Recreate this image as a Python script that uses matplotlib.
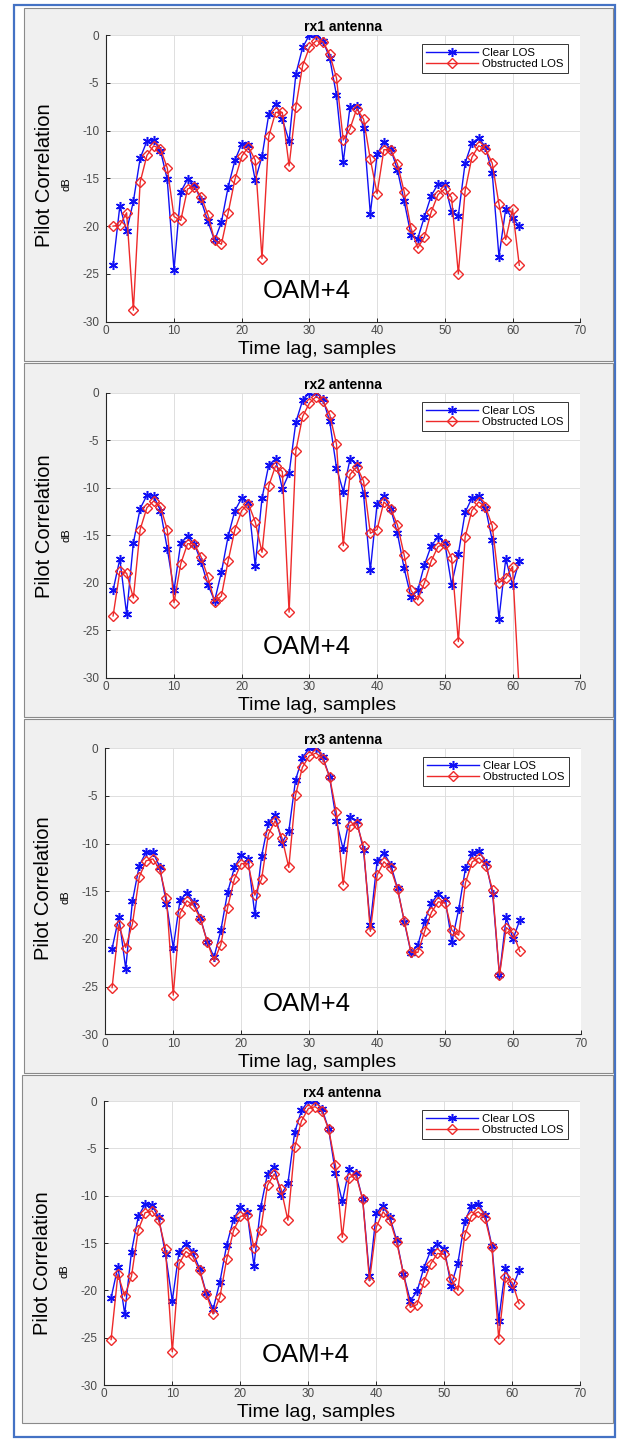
import numpy as np
import matplotlib
matplotlib.use("Agg")
import matplotlib.pyplot as plt
from matplotlib.patches import Rectangle

plt.rcParams['font.family'] = ['Liberation Sans', 'DejaVu Sans']
plt.rcParams['axes.unicode_minus'] = False

# Data (dB), lags 1..61
lags = list(range(1, 62))
antennas = ['rx1 antenna', 'rx2 antenna', 'rx3 antenna', 'rx4 antenna']
series_names = ['Clear LOS', 'Obstructed LOS']
annotation = 'OAM+4'

rx1_clear = [-24.1, -17.9, -20.5, -17.4, -12.9, -11.1, -11.0, -12.1, -15.1, -24.6,
             -16.4, -15.1, -15.7, -17.3, -19.5, -21.5, -19.6, -15.9, -13.1, -11.4,
             -11.5, -15.2, -12.7, -8.3, -7.2, -8.8, -11.1, -4.1, -1.3, 0.0,
             0.0, -0.6, -2.4, -6.3, -13.3, -7.5, -7.4, -9.7, -18.7, -12.5,
             -11.2, -11.9, -14.1, -17.4, -20.9, -21.3, -19.0, -16.8, -15.6, -15.6,
             -18.5, -18.9, -13.4, -11.3, -10.8, -11.7, -14.4, -23.2, -18.2, -19.2, -20.0]
rx1_obstr = [-20.0, -19.9, -18.6, -28.8, -15.4, -12.6, -11.6, -11.9, -13.9, -19.0,
             -19.4, -16.1, -15.9, -16.9, -18.8, -21.5, -21.9, -18.6, -15.1, -12.7,
             -11.7, -13.1, -23.4, -10.6, -8.1, -8.1, -13.7, -7.5, -3.2, -1.3,
             -0.6, -0.7, -2.0, -4.5, -11.0, -9.8, -7.7, -8.8, -13.0, -16.6,
             -12.0, -12.0, -13.5, -16.4, -20.2, -22.3, -21.1, -18.5, -16.7, -16.1,
             -17.0, -25.0, -16.3, -12.8, -11.6, -11.9, -13.4, -17.7, -21.4, -18.2, -24.1]

rx2_clear = [-20.8, -17.5, -23.3, -15.8, -12.2, -10.8, -10.9, -12.4, -16.4, -20.8,
             -15.8, -15.1, -15.9, -17.8, -20.2, -21.9, -18.9, -15.1, -12.4, -11.1,
             -11.6, -18.2, -11.1, -7.6, -7.0, -10.1, -8.5, -3.1, -0.8, 0.0,
             0.0, -0.7, -3.0, -7.9, -10.4, -7.0, -7.5, -10.7, -18.7, -11.7,
             -10.9, -12.2, -14.8, -18.5, -21.5, -20.8, -18.1, -16.1, -15.2, -15.8,
             -20.2, -17.0, -12.6, -11.1, -10.9, -12.1, -15.5, -23.8, -17.5, -20.2, -17.7]
rx2_obstr = [-23.5, -18.8, -19.0, -21.6, -14.4, -12.1, -11.4, -12.0, -14.4, -22.1,
             -18.0, -15.9, -15.9, -17.3, -19.4, -22.0, -21.4, -17.7, -14.4, -12.4,
             -11.7, -13.6, -16.8, -9.8, -7.7, -8.3, -23.1, -6.1, -2.5, -1.1,
             -0.4, -0.9, -2.3, -5.4, -16.1, -8.6, -7.8, -9.3, -14.8, -14.4,
             -11.5, -12.2, -13.9, -17.1, -20.8, -21.8, -20.0, -17.7, -16.2, -15.9,
             -17.4, -26.2, -15.2, -12.4, -11.5, -12.0, -14.0, -20.0, -19.5, -18.3, -31.5]

rx3_clear = [-21.0, -17.7, -23.1, -16.0, -12.3, -10.9, -10.9, -12.4, -16.3, -20.9,
             -15.9, -15.2, -16.1, -17.8, -20.3, -21.9, -19.1, -15.1, -12.5, -11.2,
             -11.6, -17.4, -11.3, -7.8, -7.0, -9.9, -8.7, -3.3, -1.0, 0.0,
             0.0, -0.9, -3.0, -7.6, -10.6, -7.2, -7.6, -10.7, -18.5, -11.8,
             -11.0, -12.2, -14.7, -18.2, -21.5, -20.6, -18.1, -16.2, -15.3, -15.8,
             -20.3, -16.9, -12.6, -11.0, -10.8, -12.0, -15.3, -23.8, -17.7, -20.0, -18.0]
rx3_obstr = [-25.1, -18.5, -20.9, -18.4, -13.5, -11.8, -11.6, -12.7, -15.7, -25.9,
             -17.3, -16.0, -16.5, -17.9, -20.3, -22.3, -20.6, -16.7, -13.7, -12.1,
             -12.1, -15.4, -13.7, -9.0, -7.6, -9.4, -12.5, -4.9, -2.0, -0.8,
             -0.5, -1.1, -3.0, -6.7, -14.3, -8.1, -7.9, -10.3, -19.2, -13.3,
             -11.9, -12.6, -14.8, -18.1, -21.4, -21.4, -19.2, -17.2, -16.1, -16.2,
             -19.1, -19.6, -14.1, -11.9, -11.5, -12.3, -14.9, -23.8, -18.8, -19.4, -21.3]

rx4_clear = [-20.8, -17.5, -22.5, -15.9, -12.2, -10.9, -11.0, -12.3, -16.2, -21.1,
             -15.9, -15.1, -15.9, -17.7, -20.3, -22.0, -19.1, -15.2, -12.5, -11.2,
             -11.7, -17.4, -11.2, -7.7, -7.0, -9.9, -8.7, -3.3, -1.0, 0.0,
             0.0, -0.8, -3.0, -7.6, -10.6, -7.2, -7.6, -10.4, -18.5, -11.8,
             -11.1, -12.3, -14.7, -18.3, -21.1, -20.1, -17.6, -15.8, -15.1, -15.6,
             -19.5, -17.1, -12.7, -11.1, -10.9, -12.0, -15.3, -23.2, -17.6, -19.8, -17.9]
rx4_obstr = [-25.2, -18.3, -20.6, -18.5, -13.6, -11.8, -11.6, -12.6, -15.6, -26.5,
             -17.2, -15.9, -16.4, -17.9, -20.4, -22.5, -20.7, -16.7, -13.7, -12.2,
             -12.0, -15.5, -13.6, -8.9, -7.7, -9.3, -12.6, -4.9, -2.1, -0.8,
             -0.6, -1.1, -3.0, -6.8, -14.4, -8.1, -7.8, -10.4, -19.0, -13.3,
             -11.7, -12.6, -14.9, -18.3, -21.8, -21.5, -19.1, -17.2, -16.1, -16.2,
             -18.8, -20.0, -14.2, -12.1, -11.7, -12.4, -15.4, -25.1, -18.6, -19.2, -21.4]

clear_data = [rx1_clear, rx2_clear, rx3_clear, rx4_clear]
obstr_data = [rx1_obstr, rx2_obstr, rx3_obstr, rx4_obstr]

x_ticks = [0, 10, 20, 30, 40, 50, 60, 70]
y_ticks = [-30, -25, -20, -15, -10, -5, 0]

# Layout in pixels (top-left origin) of the stacked screenshots
W, H = 618, 1439
panel_boxes = [(24, 8, 613, 361), (24, 363, 613, 717), (24, 719, 613, 1073), (22, 1075, 613, 1423)]
axes_boxes = [(106.3, 35, 580.2, 321.7), (106.3, 392.7, 580.2, 677.7),
              (105.3, 748.3, 581.0, 1034.3), (104.3, 1101, 580.3, 1385)]
ylabel_y = [0.51, 0.53, 0.51, 0.43]


def fig_rect(x0, y0, x1, y1):
    return [x0 / W, 1 - y1 / H, (x1 - x0) / W, (y1 - y0) / H]


fig = plt.figure(figsize=(W / 100, H / 100), dpi=100)
fig.patch.set_facecolor('white')

# outer blue frame
r = fig_rect(14, 5, 615, 1437)
fig.patches.append(Rectangle((r[0], r[1]), r[2], r[3], transform=fig.transFigure,
                             facecolor='none', edgecolor='#4472c4', linewidth=1.6, zorder=-2))

tick_col = '#4a4a4a'
for i in range(4):
    r = fig_rect(*panel_boxes[i])
    fig.patches.append(Rectangle((r[0], r[1]), r[2], r[3], transform=fig.transFigure,
                                 facecolor='#f0f0f0', edgecolor='#8a8a8a', linewidth=0.8,
                                 zorder=-1))

    ax = fig.add_axes(fig_rect(*axes_boxes[i]))
    ax.set_facecolor('white')
    ax.plot(lags, clear_data[i], color='#1010f5', linewidth=1.0, marker=(6, 2, 0),
            markersize=6.5, markeredgewidth=1.1, label=series_names[0])
    ax.plot(lags, obstr_data[i], color='#ee2a2a', linewidth=1.0, marker='D',
            markersize=5, markerfacecolor='none', markeredgewidth=1.0, label=series_names[1])

    ax.set_xlim(0, 70)
    ax.set_ylim(-30, 0)
    ax.set_xticks(x_ticks)
    ax.set_yticks(y_ticks)
    ax.grid(True, color='#dedede', linewidth=0.7)
    ax.set_axisbelow(True)
    ax.spines['top'].set_visible(False)
    ax.spines['right'].set_visible(False)
    for s in ['left', 'bottom']:
        ax.spines[s].set_color('#262626')
        ax.spines[s].set_linewidth(0.8)
    ax.tick_params(direction='in', length=3, width=0.7, colors='#262626',
                   labelcolor=tick_col, labelsize=8.5)
    ax.tick_params(axis='x', pad=2.5)
    ax.tick_params(axis='y', pad=5)

    ax.set_title(antennas[i], fontsize=10, fontweight='bold', pad=3)
    ax.text(0.445, -0.097, 'Time lag, samples', transform=ax.transAxes,
            ha='center', va='center', fontsize=14)
    ax.text(-0.13, ylabel_y[i], 'Pilot Correlation', transform=ax.transAxes,
            rotation=90, ha='center', va='center', fontsize=14.5)
    ax.text(-0.083, ylabel_y[i] - 0.03, 'dB', transform=ax.transAxes,
            rotation=90, ha='center', va='center', fontsize=8)
    ax.text(29.6, -26.8, annotation, ha='center', va='center', fontsize=18.5)

    leg = ax.legend(loc='upper right', bbox_to_anchor=(0.974, 0.969), borderaxespad=0,
                    fontsize=8.2, handlelength=4.6, handletextpad=0.35, borderpad=0.35,
                    labelspacing=0.1, fancybox=False, framealpha=1)
    leg.get_frame().set_edgecolor('#333333')
    leg.get_frame().set_linewidth(0.7)

fig.savefig('out.png', dpi=100)
